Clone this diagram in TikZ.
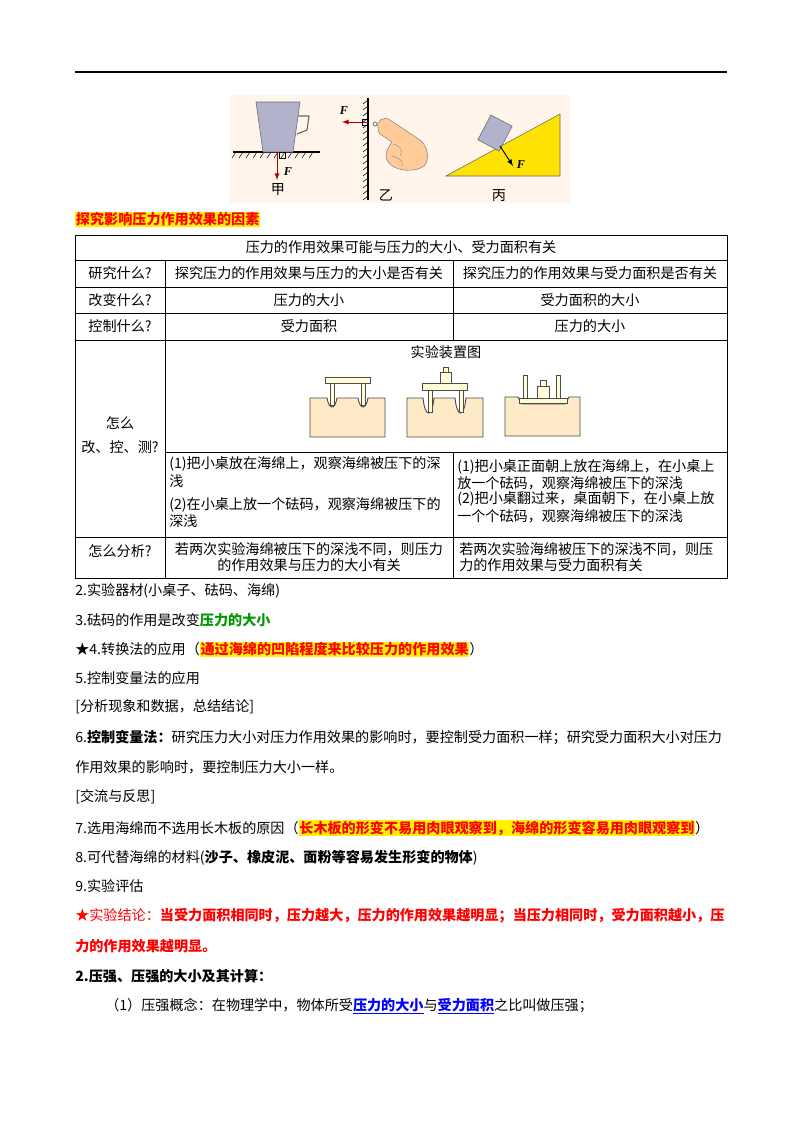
\documentclass[tikz,border=0pt]{standalone}
\usepackage{fontspec}
\setmainfont{Noto Sans CJK SC}
\newfontfamily\lserif{Liberation Serif}
\newcommand\myul[1]{\underline{#1}}
\begin{document}
\begin{tikzpicture}[x=0.744pt,y=-0.744pt,
  t/.style={anchor=west,inner sep=0pt,font=\fontsize{10.5}{13}\selectfont},
  c/.style={anchor=center,inner sep=0pt,font=\fontsize{10.5}{13}\selectfont},
  fl/.style={font=\lserif\itshape\bfseries\small},
  tl/.style={line width=0.6pt},
  sponge/.style={fill=yellow!25!orange!20,draw=black!70,line width=0.7pt},
  wood/.style={fill=yellow!15,draw=black!70,line width=0.6pt}]
\newcommand\hl[1]{{\setlength\fboxsep{0.5pt}\colorbox{yellow}{\textcolor{red}{\bfseries #1}}}}
\useasboundingbox (0,0) rectangle (800,1132);
\fill[white] (0,0) rectangle (800,1132);
\draw[line width=1pt] (75,72) -- (727,72);
% top picture
\fill[orange!8!white] (230,95) rectangle (570,203);
\draw[line width=0.8pt] (233,152) -- (320,152);
\foreach \i in {236,243,...,318} \draw[line width=0.4pt] (\i,152) -- (\i-4,158);
\draw[fill=blue!20!gray!50,draw=black!60] (256,102) -- (300,102) -- (293,152) -- (263,152) -- cycle;
\draw[black!60,line width=0.8pt] (298,116) -- (309,116) -- (307,130) -- (297,134);
\draw[red!70!black,->,>=latex,line width=0.7pt] (277,152) -- (277,180);
\draw[line width=0.4pt] (279,152) rectangle (285,158);
\node[fl] (f1) at (288,172) {F};
\node[c] (j) at (278,190) {甲};
\draw[line width=0.8pt] (368,98) -- (368,200);
\foreach \i in {100,106,...,198} \draw[line width=0.4pt] (368,\i) -- (363,\i+4);
\draw[red!70!black,->,>=latex,line width=0.7pt] (368,122) -- (342,122);
\draw[line width=0.4pt] (362,119) rectangle (368,125);
\node[fl] (f2) at (344,111) {F};
% hand: pointing finger + fist
\draw[fill=orange!40!white,draw=black!50] (378,128) .. controls (376,120) and (384,116) .. (390,120) -- (420,140) .. controls (428,146) and (430,160) .. (424,166) .. controls (416,172) and (398,172) .. (390,164) .. controls (382,156) and (388,148) .. (392,142) -- (380,134) .. controls (378,132) and (378,130) .. cycle;
\draw[black!40] (393,144) .. controls (400,146) and (404,150) .. (400,156);
\draw[black!40] (392,156) .. controls (398,158) and (404,160) .. (402,166);
\draw[black!60,line width=0.5pt] (375,124) circle (2);
\node[c] (y) at (386,195) {乙};
\draw[fill=yellow!85!orange,draw=black!60] (446,176) -- (560,114) -- (560,176) -- cycle;
\draw[fill=blue!20!gray!50,draw=black!60,rotate around={-28:(495,133)}] (483,119) rectangle (507,147);
\draw[black,->,>=latex,line width=0.7pt] (500,146) -- (513,166);
\node[fl] (f3) at (521,165) {F};
\node[c] (b) at (499,196) {丙};
% title
\node[t] (title) at (75,219) {\hl{探究影响压力作用效果的因素}};
% table
\draw[tl] (75,235) rectangle (727,578);
\foreach \yy in {260,287,313,340,537} \draw[tl] (75,\yy) -- (727,\yy);
\draw[tl] (165,260) -- (165,578);
\draw[tl] (453,260) -- (453,340);
\draw[tl] (165,452) -- (727,452);
\draw[tl] (453,452) -- (453,578);
\node[c] at (401,247) {压力的作用效果可能与压力的大小、受力面积有关};
\node[c] at (120,273) {研究什么?};
\node[c] at (309,273) {探究压力的作用效果与压力的大小是否有关};
\node[c] at (590,273) {探究压力的作用效果与受力面积是否有关};
\node[c] at (120,300) {改变什么?};
\node[c] at (309,300) {压力的大小};
\node[c] at (590,300) {受力面积的大小};
\node[c] at (120,326) {控制什么?};
\node[c] at (309,326) {受力面积};
\node[c] at (590,326) {压力的大小};
\node[c] at (446,352) {实验装置图};
\node[c] at (120,423) {怎么};
\node[c] at (120,447) {改、控、测?};
\node[t] at (169,464) {(1)把小桌放在海绵上，观察海绵被压下的深};
\node[t] at (169,481) {浅};
\node[t] at (169,505) {(2)在小桌上放一个砝码，观察海绵被压下的};
\node[t] at (169,521) {深浅};
\node[t] at (457,467) {(1)把小桌正面朝上放在海绵上，在小桌上};
\node[t] at (457,483) {放一个砝码，观察海绵被压下的深浅};
\node[t] at (457,499) {(2)把小桌翻过来，桌面朝下，在小桌上放};
\node[t] at (457,516) {一个个砝码，观察海绵被压下的深浅};
\node[c] at (120,551) {怎么分析?};
\node[c] at (309,549) {若两次实验海绵被压下的深浅不同，则压力};
\node[c] at (309,565) {的作用效果与压力的大小有关};
\node[t] at (459,549) {若两次实验海绵被压下的深浅不同，则压};
\node[t] at (459,565) {力的作用效果与受力面积有关};
% apparatus
\draw[sponge] (310,398) -- (327,398) .. controls (329,410) and (335,410) .. (337,398) -- (358,398) .. controls (360,410) and (366,410) .. (368,398) -- (385,398) -- (385,437) -- (310,437) -- cycle;
\draw[wood] (330,383) rectangle (334,405); \draw[wood] (361,383) rectangle (365,405);
\draw[wood] (325,377) rectangle (370,383);
\draw[sponge] (407,398) -- (423,398) .. controls (425,418) and (432,418) .. (434,398) -- (455,398) .. controls (457,418) and (464,418) .. (466,398) -- (483,398) -- (483,437) -- (407,437) -- cycle;
\draw[wood] (428,390) rectangle (432,412); \draw[wood] (459,390) rectangle (463,412);
\draw[wood] (422,383) rectangle (467,390);
\draw[wood] (440,372) rectangle (451,383); \draw[wood] (443,367) rectangle (448,372);
\draw[sponge] (505,397) -- (518,397) -- (522,404) -- (565,404) -- (569,397) -- (580,397) -- (580,436) -- (505,436) -- cycle;
\draw[wood] (519,398) rectangle (567,403);
\draw[wood] (523,375) rectangle (527,398); \draw[wood] (556,375) rectangle (560,398);
\draw[wood] (537,386) rectangle (549,398); \draw[wood] (540,380) rectangle (546,386);
% body text
\node[t] at (75,591) {2.实验器材(小桌子、砝码、海绵)};
\node[t] at (75,620) {3.砝码的作用是改变\textcolor{green!60!black}{\bfseries 压力的大小}};
\node[t] at (75,649) {★4.转换法的应用（\hl{通过海绵的凹陷程度来比较压力的作用效果}）};
\node[t] at (75,678) {5.控制变量法的应用};
\node[t] at (75,707) {[分析现象和数据，总结结论]};
\node[t] at (75,737) {6.\textbf{控制变量法：}研究压力大小对压力作用效果的影响时，要控制受力面积一样；研究受力面积大小对压力};
\node[t] at (75,767) {作用效果的影响时，要控制压力大小一样。};
\node[t] at (75,797) {[交流与反思]};
\node[t] at (75,828) {7.选用海绵而不选用长木板的原因（\hl{长木板的形变不易用肉眼观察到，海绵的形变容易用肉眼观察到}）};
\node[t] at (75,858) {8.可代替海绵的材料(\textbf{沙子、橡皮泥、面粉等容易发生形变的物体})};
\node[t] at (75,886) {9.实验评估};
\node[t,text=red] at (75,916) {★实验结论：\textbf{当受力面积相同时，压力越大，压力的作用效果越明显；当压力相同时，受力面积越小，压}};
\node[t,text=red] at (75,946) {\textbf{力的作用效果越明显。}};
\node[t] at (75,976) {\textbf{2.压强、压强的大小及其计算：}};
\node[t] at (105,1006) {（1）压强概念：在物理学中，物体所受\textcolor{blue}{\bfseries\myul{压力的大小}}与\textcolor{blue}{\bfseries\myul{受力面积}}之比叫做压强；};
\end{tikzpicture}
\end{document}
